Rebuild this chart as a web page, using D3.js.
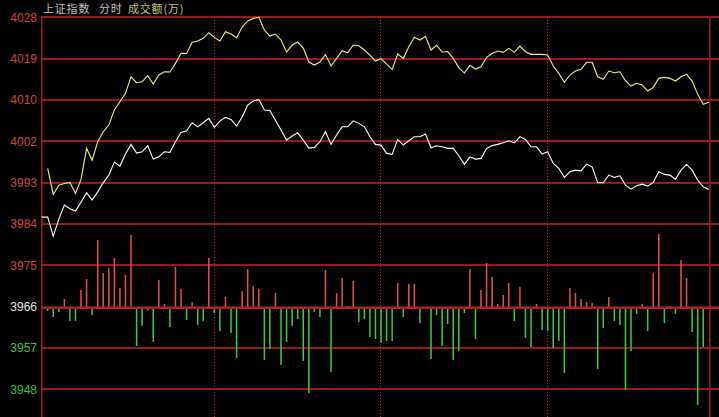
<!DOCTYPE html>
<html>
<head>
<meta charset="utf-8">
<script src="https://cdn.jsdelivr.net/npm/d3@7/dist/d3.min.js"></script>
<style>
  html, body { margin: 0; padding: 0; background: #000; }
  #root { width: 719px; height: 417px; }
  svg { display: block; }
</style>
</head>
<body>
<div id="root"></div>
<script>
// ——— données
const titleParts = [
  { text: "上证指数", color: "#c4c4c4", x: 43 },
  { text: "分时", color: "#c4c4c4", x: 99 },
  { text: "成交额(万)", color: "#c8c878", x: 128 }
];

const yTickLabels = ["4028", "4019", "4010", "4002", "3993", "3984", "3975", "3966", "3957", "3948"];
const priceLevels = [4028.15, 4019.30, 4010.45, 4001.60, 3992.75, 3983.90, 3975.05, 3966.20, 3957.35, 3948.50];
const prevClose = 3966.20;
const sessionBreaks = [29.85, 59.85, 89.85];

// ligne blanche (indice) et jaune, un point toutes les 2 minutes
const indexOpen = 3985.36;
const indexLine = [
  3985.36, 3981.29, 3984.93, 3987.93, 3987.18, 3986.65, 3988.57, 3990.61, 3989.00, 3990.78,
  3992.71, 3994.36, 3997.15, 3996.29, 3998.86, 4000.94, 3999.07, 3999.35, 4000.64, 3997.79,
  3998.28, 3999.35, 3999.22, 4001.50, 4003.51, 4003.85, 4005.57, 4004.71, 4005.57, 4006.51,
  4004.58, 4005.93, 4006.72, 4006.29, 4004.86, 4006.79, 4009.36, 4010.22, 4010.58, 4008.29,
  4008.18, 4006.04, 4004.00, 4001.86, 4002.72, 4003.42, 4001.86, 4000.14, 4000.29, 4001.50,
  4003.64, 4000.94, 4002.93, 4004.71, 4004.71, 4005.99, 4005.44, 4004.71, 4002.57, 4000.94,
  4000.79, 3999.01, 3998.80, 4002.01, 4000.79, 4001.71, 4002.57, 4002.57, 4003.14, 4000.21,
  4000.64, 4000.42, 4000.08, 4000.08, 3998.50, 3996.65, 3998.28, 3997.79, 3997.94, 4000.08,
  4000.68, 4000.94, 4001.28, 4001.71, 4001.28, 4002.57, 4002.01, 4000.42, 4000.42, 3998.86,
  3999.35, 3996.87, 3995.80, 3993.87, 3995.07, 3995.43, 3995.28, 3996.72, 3996.14, 3992.71,
  3992.71, 3994.36, 3993.87, 3994.21, 3992.22, 3991.36, 3992.07, 3992.43, 3992.00, 3992.80,
  3995.07, 3994.51, 3994.36, 3993.50, 3995.43, 3996.65, 3995.43, 3993.29, 3991.85, 3991.30
];
const leadLine = [
  3995.80, 3990.22, 3992.22, 3992.58, 3992.80, 3990.44, 3993.44, 4000.08, 3997.57, 4001.50,
  4003.64, 4005.07, 4008.29, 4010.07, 4011.87, 4015.42, 4014.14, 4014.35, 4015.64, 4013.86,
  4015.79, 4016.49, 4016.43, 4018.29, 4020.44, 4020.40, 4022.79, 4023.07, 4023.65, 4024.85,
  4023.86, 4023.07, 4025.06, 4024.57, 4023.71, 4026.07, 4027.36, 4027.89, 4028.15, 4025.43,
  4024.14, 4024.57, 4023.29, 4020.71, 4022.21, 4022.86, 4021.57, 4018.57, 4017.93, 4018.57,
  4020.18, 4017.72, 4019.36, 4020.99, 4020.56, 4022.21, 4022.06, 4021.14, 4020.07, 4018.79,
  4019.32, 4018.14, 4017.01, 4020.29, 4019.36, 4021.85, 4023.86, 4023.29, 4024.08, 4021.14,
  4022.15, 4020.71, 4020.82, 4019.36, 4017.39, 4016.22, 4017.87, 4017.07, 4017.57, 4019.58,
  4020.39, 4020.93, 4020.65, 4021.51, 4020.65, 4022.00, 4020.78, 4020.22, 4020.22, 4020.22,
  4020.07, 4017.72, 4016.15, 4014.22, 4015.79, 4016.64, 4017.01, 4018.51, 4018.51, 4015.42,
  4014.87, 4016.64, 4016.28, 4016.49, 4014.57, 4013.43, 4014.01, 4013.64, 4012.36, 4013.15,
  4015.08, 4015.29, 4015.08, 4014.50, 4015.42, 4015.94, 4014.50, 4011.65, 4009.51, 4009.94
];

// barres du bas (positif = rouge, négatif = vert)
const flowBars = [
  -2, -8, -3, 8, -12, -12, 17, 28, -6, 67,
  34, 39, 49, 19, 32, 72, -37, -17, -1.5, -33,
  27, 3, -18, 40, 18, -11, 5, -16, -12, 49,
  -4, -22, 10, -24, -49, 16, 38, 21, 18, -51,
  -40, 14, -56, -33, -17, -10, -52, -84, -3, -8,
  37, -63, 14, 29, 1, 26, -13, -10, -28, -30,
  -34, -32, -32, 24, -8, 23, 23, -14, 0, -50,
  -6, -37, -15, -51, -42, -4, 38, -30, 17, 44,
  30, 3, 12, 24, -12, 20, -29, -38, 3, -21,
  -22, -39, -32, -64, 19, 14, 8, 5, 4, -60,
  -19, 10, -12, -16, -81, -42, -5, 3, -22, 34,
  73, -14, 1, -5, 47, 29, -23, -96, -38, 0
];

// ——— rendu
const W = 719, H = 417;
const plot = { left: 41, top: 17, right: 709, bottom: H };
const gridColor = "#961a1a";

const svg = d3.select("#root").append("svg")
  .attr("width", W).attr("height", H)
  .style("background", "#000");

const x = d3.scaleLinear().domain([0, 119]).range([47.7, 708.8]);
const y = d3.scaleLinear()
  .domain([priceLevels[priceLevels.length - 1], priceLevels[0]])
  .range([389.3, 17.3]);
const vol = d3.scaleLinear().domain([0, 100]).range([0, 100]);

const px = v => Math.round(v);

// grille horizontale
svg.append("g").selectAll("rect")
  .data(priceLevels.filter(p => p !== prevClose))
  .enter().append("rect")
  .attr("x", plot.left).attr("width", W - plot.left)
  .attr("y", d => px(y(d)) - 1).attr("height", 2)
  .attr("fill", gridColor)
  .attr("shape-rendering", "crispEdges");

// séparateurs pointillés
svg.append("g").selectAll("line")
  .data(sessionBreaks)
  .enter().append("line")
  .attr("x1", d => px(x(d)) + 0.5).attr("x2", d => px(x(d)) + 0.5)
  .attr("y1", plot.top).attr("y2", plot.bottom)
  .attr("stroke", "#b02a2a").attr("stroke-dasharray", "1,2")
  .attr("shape-rendering", "crispEdges");

// bordures gauche / droite
svg.append("g").selectAll("rect")
  .data([plot.left, plot.right])
  .enter().append("rect")
  .attr("x", d => d).attr("width", 1.6)
  .attr("y", plot.top).attr("height", plot.bottom - plot.top)
  .attr("fill", gridColor);

// barres
const y0 = px(y(prevClose));
svg.append("g").selectAll("rect")
  .data(flowBars.map((v, i) => ({ i, v })).filter(d => d.v !== 0))
  .enter().append("rect")
  .attr("x", d => x(d.i) - 0.75).attr("width", 1.5)
  .attr("y", d => d.v > 0 ? y0 - Math.max(1, vol(d.v)) : y0 + 2)
  .attr("height", d => Math.max(1, vol(Math.abs(d.v))))
  .attr("fill", d => d.v > 0 ? "#e65050" : "#3ccc3c");

// ligne de référence (clôture veille)
svg.append("rect")
  .attr("x", plot.left).attr("width", W - plot.left)
  .attr("y", y0 - 0.5).attr("height", 2.5)
  .attr("fill", "#b82222");

// courbes
const line = d3.line().x(d => x(d.i)).y(d => y(d.v));
const whitePts = [{ i: -1.12, v: indexOpen }].concat(indexLine.map((v, i) => ({ i, v })));
const yellowPts = leadLine.map((v, i) => ({ i, v }));

svg.append("path").datum(yellowPts)
  .attr("d", line).attr("fill", "none")
  .attr("stroke", "#f4f466").attr("stroke-width", 1.1);
svg.append("path").datum(whitePts)
  .attr("d", line).attr("fill", "none")
  .attr("stroke", "#ffffff").attr("stroke-width", 1.1);

// étiquettes de l'axe
svg.append("g").selectAll("text")
  .data(yTickLabels)
  .enter().append("text")
  .attr("x", 37)
  .attr("y", (d, k) => y(priceLevels[k]))
  .attr("dy", "0.36em")
  .attr("text-anchor", "end")
  .attr("font-family", "Liberation Sans, Arial, sans-serif")
  .attr("font-size", 12)
  .attr("fill", (d, k) => priceLevels[k] > prevClose ? "#d04444"
    : priceLevels[k] < prevClose ? "#44c044" : "#e8e8e8")
  .text(d => d);

// titre
svg.append("g").selectAll("text")
  .data(titleParts)
  .enter().append("text")
  .attr("x", d => d.x).attr("y", 13)
  .attr("font-family", "Noto Sans CJK SC, sans-serif")
  .attr("font-size", 11)
  .attr("letter-spacing", 0.8)
  .attr("fill", d => d.color)
  .text(d => d.text);
</script>
</body>
</html>
